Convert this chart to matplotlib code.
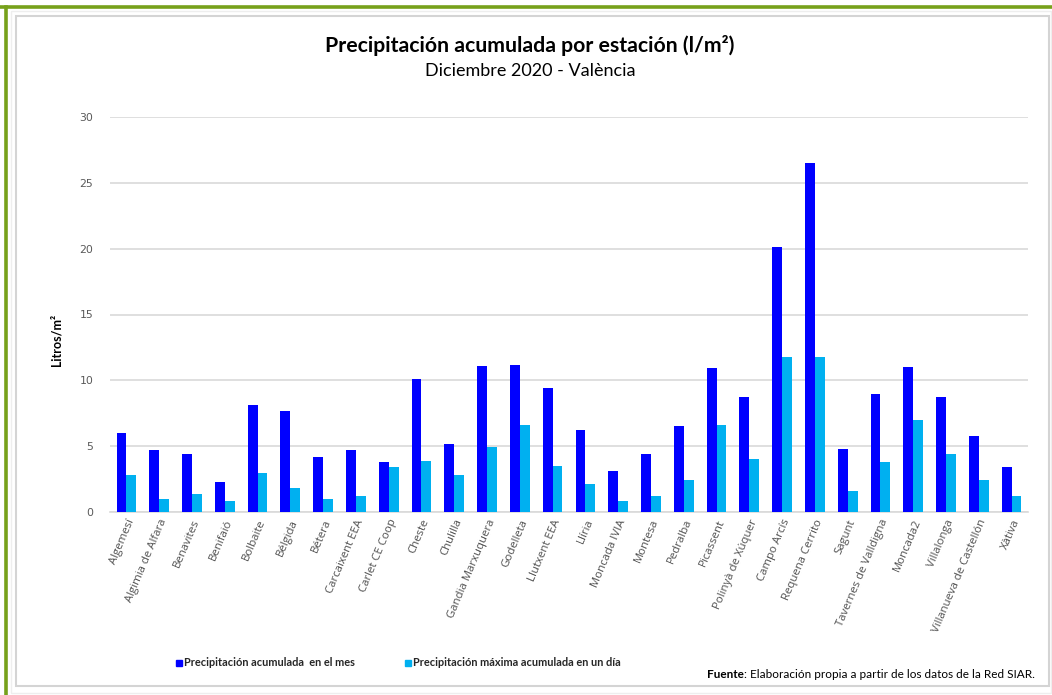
import matplotlib
matplotlib.use("Agg")
import matplotlib.pyplot as plt
import numpy as np
from matplotlib.patches import Rectangle
from matplotlib.lines import Line2D

stations = ["Algemesí", "Algimia de Alfara", "Benavites", "Benifaió", "Bolbaite",
            "Bélgida", "Bétera", "Carcaixent EEA", "Carlet CE Coop", "Cheste",
            "Chulilla", "Gandia Marxuquera", "Godelleta", "Llutxent EEA", "Llíria",
            "Moncada IVIA", "Montesa", "Pedralba", "Picassent", "Polinyà de Xúquer",
            "Campo Arcís", "Requena Cerrito", "Sagunt", "Tavernes de Valldigna",
            "Moncada2", "Villalonga", "Villanueva de Castellón", "Xàtiva"]
acum_mes = [6.0, 4.7, 4.4, 2.3, 8.1, 7.7, 4.2, 4.7, 3.8, 10.1,
            5.2, 11.1, 11.2, 9.4, 6.2, 3.1, 4.4, 6.5, 10.9, 8.7,
            20.1, 26.5, 4.8, 9.0, 11.0, 8.7, 5.8, 3.4]
max_dia = [2.8, 1.0, 1.4, 0.8, 3.0, 1.8, 1.0, 1.2, 3.4, 3.9,
           2.8, 4.9, 6.6, 3.5, 2.1, 0.8, 1.2, 2.4, 6.6, 4.0,
           11.8, 11.8, 1.6, 3.8, 7.0, 4.4, 2.4, 1.2]
yticks = [0, 5, 10, 15, 20, 25, 30]
series_names = ["Precipitación acumulada  en el mes",
                "Precipitación máxima acumulada en un día"]

W, H = 1052, 695
fig = plt.figure(figsize=(W / 100, H / 100), dpi=100)

def fx(px):
    return px / W

def fy(py):
    return 1 - py / H

# borders
fig.add_artist(Rectangle((fx(11), fy(693)), fx(1051 - 11), fy(11) - fy(693),
                         transform=fig.transFigure, fill=False, ec="#EEEEEE", lw=1))
fig.add_artist(Rectangle((fx(16), fy(686)), fx(1049 - 16), fy(16) - fy(686),
                         transform=fig.transFigure, fill=False, ec="#D4D4D4", lw=1.5))
fig.add_artist(Line2D([0, 1], [fy(6.5), fy(6.5)], transform=fig.transFigure,
                      color="#77A11B", lw=2.6))
fig.add_artist(Line2D([fx(6), fx(6)], [0, fy(6.5)], transform=fig.transFigure,
                      color="#77A11B", lw=2.6))

ax = fig.add_axes([fx(110), fy(512), fx(1028 - 110), fy(117) - fy(512)])
x = np.arange(len(stations))
bw = 0.3
ax.bar(x - bw / 2, acum_mes, width=bw, color="#0000FF", zorder=3)
ax.bar(x + bw / 2, max_dia, width=bw, color="#00B0F0", zorder=3)

ax.set_xlim(-0.5, len(stations) - 0.5)
ax.set_ylim(0, 30)
ax.set_yticks(yticks)
ax.yaxis.grid(True, color="#D9D9D9", lw=1.2, zorder=0)
for s in ["top", "right", "left"]:
    ax.spines[s].set_visible(False)
ax.spines["bottom"].set_color("#D9D9D9")
ax.spines["bottom"].set_linewidth(1.2)
ax.tick_params(axis="y", length=0, pad=12, labelsize=7.8, labelcolor="#595959")
ax.tick_params(axis="x", length=0, pad=4)
ax.set_xticks(x)
ax.set_xticklabels(stations, rotation=67, ha="right", va="top",
                   rotation_mode="anchor", fontsize=8.2, color="#505050",
                   family="Open Sans")
for lbl in ax.get_yticklabels():
    lbl.set_family("DejaVu Sans")

fig.text(fx(57), fy(340), "Litros/m²", rotation=90, ha="center", va="center",
         fontsize=9, fontweight="bold", family="Lato", color="#000000")

fig.text(fx(530), fy(46), "Precipitación acumulada por estación (l/m²)",
         ha="center", va="center", fontsize=15.3, fontweight="bold", family="Lato")
fig.text(fx(530), fy(71), "Diciembre 2020 - València",
         ha="center", va="center", fontsize=13, family="Lato")

# legend
fig.add_artist(Rectangle((fx(175.5), fy(665.5)), fx(6), fy(659.5) - fy(665.5),
                         transform=fig.transFigure, color="#0000FF"))
fig.text(fx(184), fy(662.5), series_names[0], ha="left", va="center",
         fontsize=7.9, fontweight="bold", family="Lato", color="#262626")
fig.add_artist(Rectangle((fx(404.5), fy(665.5)), fx(6), fy(659.5) - fy(665.5),
                         transform=fig.transFigure, color="#00B0F0"))
fig.text(fx(413), fy(662.5), series_names[1], ha="left", va="center",
         fontsize=7.9, fontweight="bold", family="Lato", color="#262626")

# source note: bold "Fuente" followed by regular text
rest = fig.text(fx(1035), fy(674), ": Elaboración propia a partir de los datos de la Red SIAR.",
                ha="right", va="center", fontsize=8.5, family="Lato", color="#000000")
renderer = fig.canvas.get_renderer()
bb = rest.get_window_extent(renderer=renderer)
fig.text(bb.x0 / fig.bbox.width, fy(674), "Fuente", ha="right", va="center",
         fontsize=8.5, fontweight="bold", family="Lato", color="#000000")

fig.savefig("out.png", dpi=100)
